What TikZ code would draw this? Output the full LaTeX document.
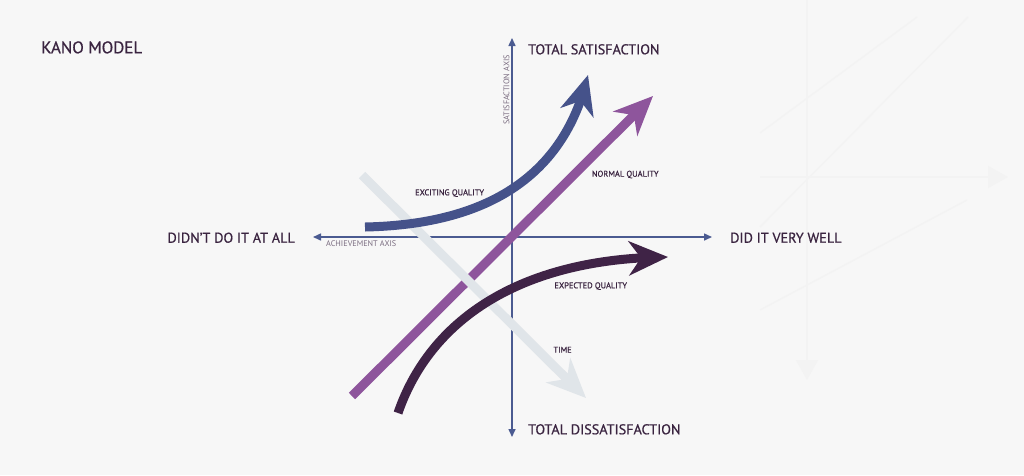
\documentclass[tikz,border=0pt]{standalone}
\usepackage{fontspec}
\setmainfont{PT Sans}
\newfontfamily\semib[FakeBold=0.6]{PT Sans}
\usetikzlibrary{arrows.meta,bending}
\definecolor{bg}{HTML}{F7F7F7}
\definecolor{faint}{HTML}{F3F3F3}
\definecolor{axiscol}{HTML}{4B5B91}
\definecolor{excite}{HTML}{45528A}
\definecolor{normalq}{HTML}{8E559C}
\definecolor{expect}{HTML}{3F2346}
\definecolor{timecol}{HTML}{E0E5E9}
\definecolor{txt}{HTML}{3A2440}
\definecolor{graytxt}{HTML}{7A6C80}
\tikzset{
  biglabel/.style={inner sep=0pt, text=txt, font=\semib\fontsize{14.2}{16}\selectfont},
  titlelabel/.style={inner sep=0pt, text=txt, font=\semib\fontsize{16.9}{18}\selectfont},
  smalllabel/.style={inner sep=0pt, text=txt, font=\semib\fontsize{8.4}{10}\selectfont},
  axislabel/.style={inner sep=0pt, text=graytxt, font=\fontsize{8.2}{10}\selectfont},
  axisline/.style={draw=axiscol, line width=1.5pt, -{Triangle[length=8pt,width=7pt]}},
  bigarrow/.style={line width=9pt, -{Stealth[length=39pt,width=34pt,inset=12pt]}},
  faintline/.style={draw=faint, line width=1.5pt}
}
\begin{document}
\begin{tikzpicture}[x=1pt,y=-1pt]
\fill[bg] (0,0) rectangle (1024,475);
\useasboundingbox (0,0) rectangle (1024,475);

% faint background watermark
\draw[faintline, -{Triangle[length=20pt,width=22pt]}] (807,0) -- (807,380);
\draw[faintline, -{Triangle[length=20pt,width=22pt]}] (760,177) -- (1008,177);
\draw[faintline] (760,133) -- (917,17);
\draw[faintline] (760,227) -- (968,17);
\draw[faintline] (760,310) -- (967,200);

% coordinates
\coordinate (O) at (512,237);
\coordinate (ytop) at (512,38);
\coordinate (ybot) at (512,437);
\coordinate (xleft) at (313,237);
\coordinate (xright) at (712,237);

% axes
\draw[axisline] (O) -- (ytop);
\draw[axisline] (O) -- (ybot);
\draw[axisline] (O) -- (xleft);
\draw[axisline] (O) -- (xright);

% normal quality
\coordinate (n0) at (352,396);
\coordinate (n1) at (653,96);
\draw[bigarrow, draw=normalq] (n0) -- (n1);

% time
\coordinate (t0) at (362,175);
\coordinate (t1) at (586,398);
\draw[bigarrow, draw=timecol] (t0) -- (t1);

% exciting quality
\coordinate (e0) at (365,227);
\coordinate (e1) at (588,75);
\draw[bigarrow, draw=excite] (e0) .. controls (460,225) and (560,195) .. (e1);

% expected quality
\coordinate (x0) at (398,413);
\coordinate (x1) at (668,257);
\draw[bigarrow, draw=expect] (x0) .. controls (430,320) and (520,258) .. (x1);

% labels
\node[titlelabel, anchor=base west] (kano) at (41,53.3) {KANO MODEL};
\node[biglabel, anchor=base west] (tsat) at (528,54.3) {TOTAL SATISFACTION};
\node[biglabel, anchor=base west] (tdis) at (528,434.3) {TOTAL DISSATISFACTION};
\node[biglabel, anchor=base east] (didnt) at (295,242.7) {DIDN’T DO IT AT ALL};
\node[biglabel, anchor=base west] (did) at (730,242.7) {DID IT VERY WELL};
\node[axislabel, anchor=base west, rotate=90] (satax) at (509.3,125) {SATISFACTION AXIS};
\node[axislabel, anchor=base west] (achax) at (326,246.7) {ACHIEVEMENT AXIS};
\node[smalllabel, anchor=base west] (exq) at (415,195.3) {EXCITING QUALITY};
\node[smalllabel, anchor=base west] (nq) at (591.7,176.7) {NORMAL QUALITY};
\node[smalllabel, anchor=base west] (epq) at (554.3,288.3) {EXPECTED QUALITY};
\node[smalllabel, anchor=base west] (tm) at (553.3,352.7) {TIME};
\end{tikzpicture}
\end{document}
